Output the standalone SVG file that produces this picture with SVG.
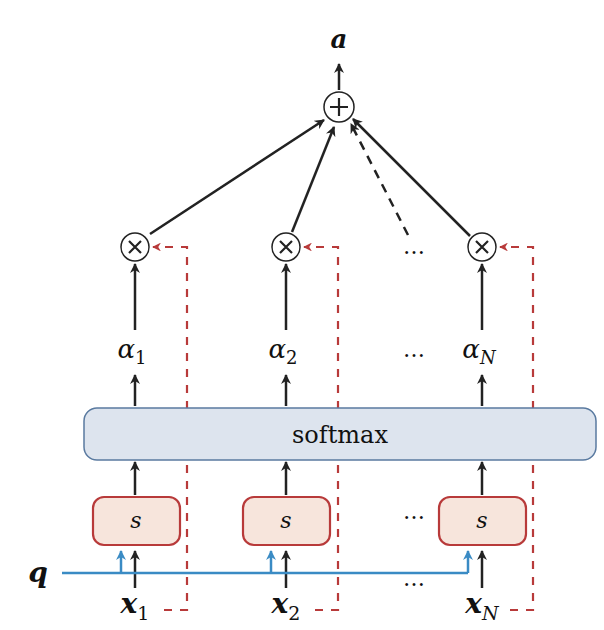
<svg xmlns="http://www.w3.org/2000/svg" width="604" height="630" viewBox="0 0 604 630">
<style>
.t{font-family:"DejaVu Serif","Liberation Serif",serif;fill:#111}
.k{stroke:#222;stroke-width:2.5;fill:none}
.r{stroke:#b83a3a;stroke-width:2.2;fill:none;stroke-dasharray:8 8}
.op{fill:#fff;stroke:#222;stroke-width:1.5}
.sb{fill:#f7e5dc;stroke:#b83a3a;stroke-width:2.2}
</style>
<defs>
<marker id="ak" viewBox="0 0 10 10" refX="9" refY="5" markerWidth="4" markerHeight="4" orient="auto-start-reverse"><path d="M0,0L10,5L0,10L3,5z" fill="#222"/></marker>
<marker id="ar" viewBox="0 0 10 10" refX="9" refY="5" markerWidth="4" markerHeight="4" orient="auto"><path d="M0,0L10,5L0,10L3,5z" fill="#b83a3a"/></marker>
<marker id="ab" viewBox="0 0 10 10" refX="9" refY="5" markerWidth="4" markerHeight="4" orient="auto"><path d="M0,0L10,5L0,10L3,5z" fill="#3a8bc4"/></marker>
</defs>
<g id="connectors">
<line class="k" x1="339" y1="90" x2="339" y2="64" marker-end="url(#ak)"/>
<line class="k" x1="150" y1="234" x2="324" y2="120" marker-end="url(#ak)"/>
<line class="k" x1="292" y1="232" x2="334" y2="127" marker-end="url(#ak)"/>
<line class="k" x1="408" y1="235" x2="351" y2="124" stroke-dasharray="9 7" marker-end="url(#ak)"/>
<line class="k" x1="470" y1="236" x2="353" y2="119" marker-end="url(#ak)"/>
<g class="k">
<line x1="135" y1="330" x2="135" y2="264" marker-end="url(#ak)"/>
<line x1="286" y1="330" x2="286" y2="264" marker-end="url(#ak)"/>
<line x1="482" y1="330" x2="482" y2="264" marker-end="url(#ak)"/>
<line x1="135" y1="406" x2="135" y2="375" marker-end="url(#ak)"/>
<line x1="286" y1="406" x2="286" y2="375" marker-end="url(#ak)"/>
<line x1="482" y1="406" x2="482" y2="375" marker-end="url(#ak)"/>
<line x1="135" y1="495" x2="135" y2="462" marker-end="url(#ak)"/>
<line x1="286" y1="495" x2="286" y2="462" marker-end="url(#ak)"/>
<line x1="482" y1="495" x2="482" y2="462" marker-end="url(#ak)"/>
<line x1="135" y1="588" x2="135" y2="551" marker-end="url(#ak)"/>
<line x1="286" y1="588" x2="286" y2="551" marker-end="url(#ak)"/>
<line x1="482" y1="588" x2="482" y2="551" marker-end="url(#ak)"/>
</g>
<path class="r" d="M164,610H187V247H153" marker-end="url(#ar)"/>
<path class="r" d="M315,610H338V247H304" marker-end="url(#ar)"/>
<path class="r" d="M510,610H533V247H500" marker-end="url(#ar)"/>
<line x1="62" y1="573" x2="468" y2="573" stroke="#3a8bc4" stroke-width="2.5"/>
<g stroke="#3a8bc4" stroke-width="2.5">
<line x1="121" y1="573" x2="121" y2="551" marker-end="url(#ab)"/>
<line x1="271" y1="573" x2="271" y2="551" marker-end="url(#ab)"/>
<line x1="468" y1="573" x2="468" y2="551" marker-end="url(#ab)"/>
</g>
</g>
<g id="a"><text class="t" x="339" y="48" font-size="26" font-weight="bold" font-style="italic" text-anchor="middle">a</text></g>
<g id="plus"><circle class="op" cx="339" cy="107" r="15"/><path d="M330,107H348M339,98V116" stroke="#222" stroke-width="2.2"/></g>
<g id="m1"><circle class="op" cx="135" cy="247" r="14"/><path d="M129,241L141,253M141,241L129,253" stroke="#222" stroke-width="2.2"/></g>
<g id="m2"><circle class="op" cx="286" cy="247" r="14"/><path d="M280,241L292,253M292,241L280,253" stroke="#222" stroke-width="2.2"/></g>
<g id="mN"><circle class="op" cx="482" cy="247" r="14"/><path d="M476,241L488,253M488,241L476,253" stroke="#222" stroke-width="2.2"/></g>
<g id="dots" class="t" font-size="22" text-anchor="middle">
<text x="414" y="254">…</text><text x="414" y="357">…</text><text x="414" y="519">…</text><text x="414" y="586">…</text>
</g>
<g id="alphas" class="t" font-size="26" font-style="italic" text-anchor="middle">
<text x="132" y="358">α<tspan font-size="18" font-style="normal" dy="6">1</tspan></text>
<text x="283" y="358">α<tspan font-size="18" font-style="normal" dy="6">2</tspan></text>
<text x="479" y="358">α<tspan font-size="18" dy="6">N</tspan></text>
</g>
<g id="softmax"><rect x="84" y="408" width="512" height="52" rx="13" fill="#dde4ee" stroke="#5a7aa0" stroke-width="1.5"/><text class="t" x="340" y="443" font-size="24" text-anchor="middle">softmax</text></g>
<g id="s1"><rect class="sb" x="93" y="497" width="87" height="48" rx="11"/><text class="t" x="136" y="528" font-size="22" font-style="italic" text-anchor="middle">s</text></g>
<g id="s2"><rect class="sb" x="243" y="497" width="87" height="48" rx="11"/><text class="t" x="286" y="528" font-size="22" font-style="italic" text-anchor="middle">s</text></g>
<g id="sN"><rect class="sb" x="439" y="497" width="87" height="48" rx="11"/><text class="t" x="482" y="528" font-size="22" font-style="italic" text-anchor="middle">s</text></g>
<g id="q"><text class="t" x="38" y="582" font-size="28" font-weight="bold" font-style="italic" text-anchor="middle">q</text></g>
<g id="xs" class="t" font-size="28" font-weight="bold" font-style="italic" text-anchor="middle">
<text x="135" y="613">x<tspan font-size="19" font-weight="normal" font-style="normal" dy="7">1</tspan></text>
<text x="286" y="613">x<tspan font-size="19" font-weight="normal" font-style="normal" dy="7">2</tspan></text>
<text x="482" y="613">x<tspan font-size="19" font-weight="normal" dy="7">N</tspan></text>
</g>
</svg>
